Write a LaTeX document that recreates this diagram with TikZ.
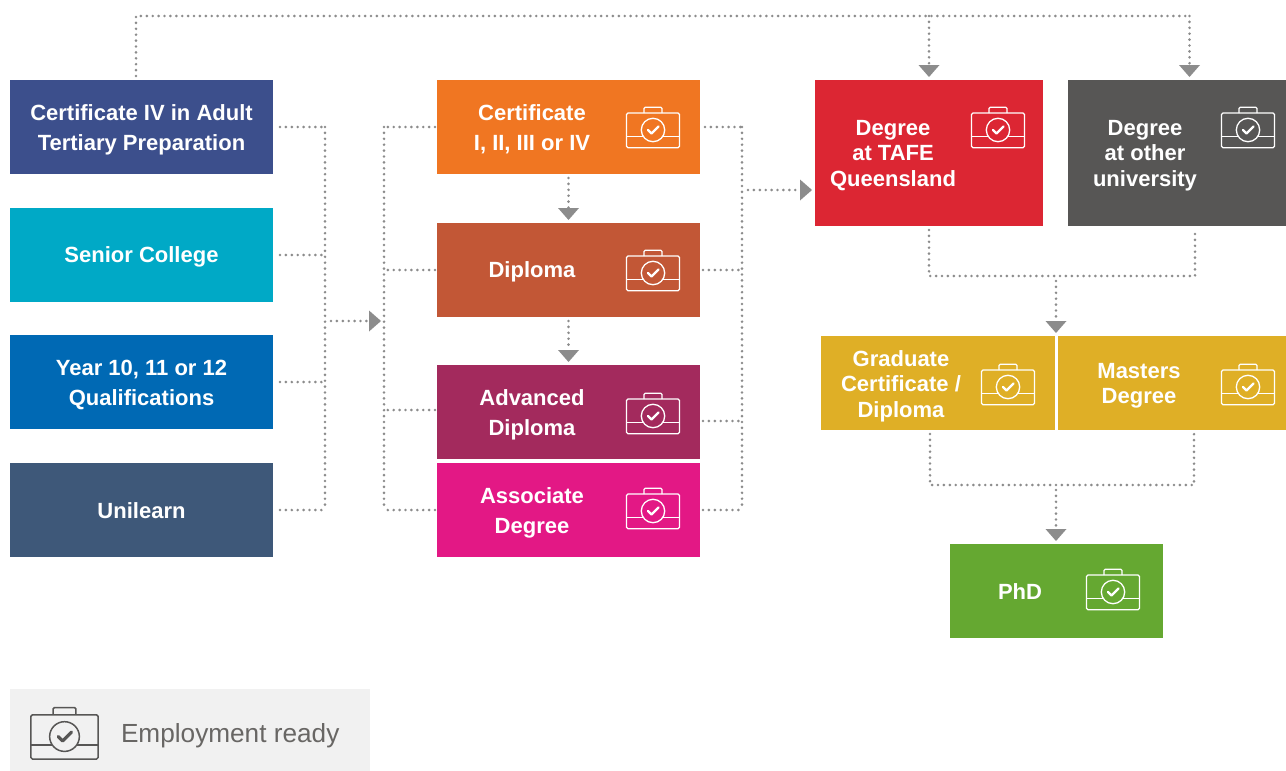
\documentclass[tikz,border=0pt]{standalone}
\usepackage{fontspec}
\setmainfont{Liberation Sans}
\usetikzlibrary{decorations.markings,calc}
\definecolor{cCertIV}{HTML}{3C4F8C}
\definecolor{cSenior}{HTML}{00A9C6}
\definecolor{cYear}{HTML}{0069B4}
\definecolor{cUni}{HTML}{3E5879}
\definecolor{cCert}{HTML}{F07622}
\definecolor{cDip}{HTML}{C25736}
\definecolor{cAdv}{HTML}{A32A5D}
\definecolor{cAssoc}{HTML}{E31885}
\definecolor{cTafe}{HTML}{DC2633}
\definecolor{cOther}{HTML}{575655}
\definecolor{cGold}{HTML}{DFAF26}
\definecolor{cPhd}{HTML}{65A831}
\definecolor{cLegend}{HTML}{F1F1F1}
\definecolor{cDots}{HTML}{8C8C8C}
\definecolor{cLegendText}{HTML}{686664}
\tikzset{
  x=1pt,y=1pt,
  checkw/.store in=\checkw, checkw=2.4pt,
  boxnode/.style={rectangle,inner sep=0pt,outer sep=0pt,text=white,align=center,
    font=\fontsize{22}{30}\selectfont\bfseries},
  tall/.style={font=\fontsize{22}{25.5}\selectfont\bfseries},
  boxlabel/.style={inner sep=0pt,outer sep=0pt,text=white,align=center,
    font=\fontsize{22}{30}\selectfont\bfseries},
  wide/.style={boxnode,minimum width=263pt,minimum height=94pt},
  dotline/.style={decorate,decoration={markings,
    mark=between positions 0 and 1 step 5.9pt with {\fill[cDots] (0,0) circle[radius=1.45pt];}}},
  dotarrow/.style={decorate,decoration={markings,
    mark=between positions 0 and -15.5pt step 5.9pt with {\fill[cDots] (0,0) circle[radius=1.45pt];},
    mark=at position 1 with {\fill[cDots] (-15,10.5) -- (-3,0) -- (-15,-10.5) -- cycle;}}},
  case/.pic={
    \draw[pic actions,rounded corners=1.5pt] (-26.5,-8.7) -- (-26.5,15) -- (26.5,15) -- (26.5,-19.7) -- (-26.5,-19.7) -- cycle;
    \draw[pic actions,rounded corners=1.2pt] (-9,15) -- (-9,20.7) -- (9,20.7) -- (9,15);
    \draw[pic actions] (0,-2) circle[radius=11.7];
    \draw[pic actions] (-26.5,-8.7) -- (-9.6,-8.7) (9.6,-8.7) -- (26.5,-8.7);
    \draw[pic actions,line width=\checkw,line cap=round,line join=round] (-5,-2) -- (-1.5,-5.5) -- (5.5,1.5);
  },
  whitecase/.style={draw=white,line width=1.3pt},
}
\begin{document}
\begin{tikzpicture}
\useasboundingbox (0,0) rectangle (1286,-771);
% left column
\node[wide,fill=cCertIV] (certiv) at (141.5,-127) {};
\node[wide,fill=cSenior] (senior) at (141.5,-255) {};
\node[wide,fill=cYear] (year) at (141.5,-382) {};
\node[wide,fill=cUni] (unilearn) at (141.5,-510) {};
\node[boxlabel] (certivT) at (141.5,-129.5) {Certificate IV in Adult\\Tertiary Preparation};
\node[boxlabel] (seniorT) at (141.5,-257) {Senior College};
\node[boxlabel] (yearT) at (141.5,-384.5) {Year 10, 11 or 12\\Qualifications};
\node[boxlabel] (unilearnT) at (141.5,-511) {Unilearn};
% middle column
\node[wide,fill=cCert] (cert) at (568.5,-127) {};
\node[wide,fill=cDip] (dip) at (568.5,-270) {};
\node[wide,fill=cAdv] (adv) at (568.5,-412) {};
\node[wide,fill=cAssoc] (assoc) at (568.5,-510) {};
\node[boxlabel] (certT) at (532,-129) {Certificate\\I, II, III or IV};
\node[boxlabel] (dipT) at (532,-272) {Diploma};
\node[boxlabel] (advT) at (532,-414.5) {Advanced\\Diploma};
\node[boxlabel] (assocT) at (532,-512.5) {Associate\\Degree};
% right column
\node[boxnode,minimum width=228pt,minimum height=146pt,fill=cTafe] (tafe) at (929,-153) {};
\node[boxnode,minimum width=218pt,minimum height=146pt,fill=cOther] (other) at (1177,-153) {};
\node[boxnode,minimum width=234pt,minimum height=94pt,fill=cGold] (grad) at (938,-383) {};
\node[boxnode,minimum width=228pt,minimum height=94pt,fill=cGold] (masters) at (1172,-383) {};
\node[boxnode,minimum width=213pt,minimum height=94pt,fill=cPhd] (phd) at (1056.5,-591) {};
\node[boxlabel,tall] (tafeT) at (893,-155.5) {Degree\\at TAFE\\Queensland};
\node[boxlabel,tall] (otherT) at (1145,-155.5) {Degree\\at other\\university};
\node[boxlabel,tall] (gradT) at (901,-386) {Graduate\\Certificate /\\Diploma};
\node[boxlabel,tall] (mastersT) at (1139,-386) {Masters\\Degree};
\node[boxlabel] (phdT) at (1020,-592) {PhD};
% icons
\pic[whitecase] at (653,-128) {case};
\pic[whitecase] at (653,-271) {case};
\pic[whitecase] at (653,-414) {case};
\pic[whitecase] at (653,-509) {case};
\pic[whitecase] at (998,-128) {case};
\pic[whitecase] at (1248,-128) {case};
\pic[whitecase] at (1008,-385) {case};
\pic[whitecase] at (1248,-385) {case};
\pic[whitecase] at (1113,-590) {case};
% legend
\node[rectangle,inner sep=0pt,outer sep=0pt,minimum width=360pt,minimum height=82pt,fill=cLegend] (legend) at (190,-730) {};
\pic[draw=cOther,line width=1.5pt,scale=1.27,checkw=3.2pt] at (64.5,-734) {case};
\node[inner sep=0pt,outer sep=0pt,anchor=west,text=cLegendText,font=\fontsize{26.2}{30}\selectfont] (legendT) at (121,-736) {Employment ready};
% bus coordinates
\coordinate (busA) at (325,-321);
\coordinate (busB) at (384,-321);
\coordinate (busC) at (742,-190);
\coordinate (topS) at (136,-76);
\coordinate (topC) at (136,-16);
\coordinate (topA) at (929,-16);
\coordinate (topB) at (1189.5,-16);
\coordinate (joinA) at (1056,-276);
\coordinate (joinB) at (1056,-485);
\coordinate (advL) at (435,-410);
\coordinate (advR) at (703,-421);
\coordinate (tafeD) at (929,-230);
\coordinate (otherD) at (1195,-230);
\coordinate (gradL) at (930,-434);
\coordinate (gradR) at (1194,-434);
% top connector
\path[dotline] (topS) -- (topC) -- (topB);
\path[dotarrow] (topA) -- (tafe.north);
\path[dotarrow] (topB) -- (topB |- other.north);
% left bus
\path[dotline] (busA |- certiv.east) -- (busA |- unilearn.east);
\path[dotline] ([xshift=7pt]certiv.east) -- (busA |- certiv.east);
\path[dotline] ([xshift=7pt]senior.east) -- (busA |- senior.east);
\path[dotline] ([xshift=7pt]year.east) -- (busA |- year.east);
\path[dotline] ([xshift=7pt]unilearn.east) -- (busA |- unilearn.east);
\path[dotarrow] ([xshift=6pt]busA) -- (busB);
% second bus
\path[dotline] (busB |- certiv.east) -- (busB |- unilearn.east);
\path[dotline] ([xshift=-2pt]cert.west) -- (busB |- cert.west);
\path[dotline] ([xshift=-2pt]dip.west) -- (busB |- dip.west);
\path[dotline] (advL) -- (busB |- advL);
\path[dotline] ([xshift=-2pt]assoc.west) -- (busB |- assoc.west);
% down arrows
\path[dotarrow] ([yshift=-4pt]cert.south) -- (dip.north);
\path[dotarrow] ([yshift=-4pt]dip.south) -- (adv.north);
% right bus
\path[dotline] (busC |- cert.east) -- (busC |- assoc.east);
\path[dotline] ([xshift=5pt]cert.east) -- (busC |- cert.east);
\path[dotline] ([xshift=3pt]dip.east) -- (busC |- dip.east);
\path[dotline] (advR) -- (busC |- advR);
\path[dotline] ([xshift=3pt]assoc.east) -- (busC |- assoc.east);
\path[dotarrow] ([xshift=6pt]busC) -- (tafe.west |- busC);
% degree join
\path[dotline] (tafeD) -- (tafeD |- joinA) -- (otherD |- joinA) -- (otherD);
\path[dotarrow] ([yshift=-5pt]joinA) -- (joinA |- grad.north);
% grad join
\path[dotline] (gradL) -- (gradL |- joinB) -- (gradR |- joinB) -- (gradR);
\path[dotarrow] ([yshift=-5pt]joinB) -- (joinB |- phd.north);
\end{tikzpicture}
\end{document}
